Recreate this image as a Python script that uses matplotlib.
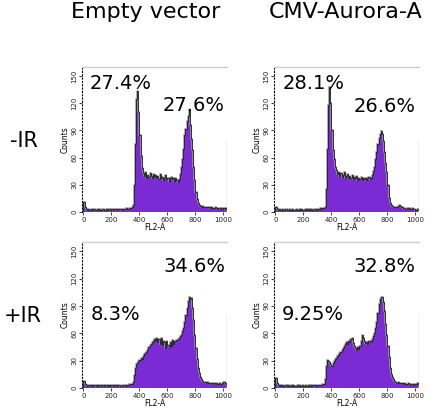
"""Cell-cycle DNA content histograms: empty vector vs CMV-Aurora-A, -IR / +IR."""
import matplotlib
matplotlib.use("Agg")
import matplotlib.pyplot as plt
import numpy as np

plt.rcParams["font.family"] = ["DejaVu Sans"]

# FL2-A channel bins (width 8, 0..1024)
bin_width = 8
n_bins = 128

# counts per bin
ev_minus = [
    11, 5, 3, 2, 3, 2, 2, 3, 2, 3, 2, 2, 3, 2, 3, 2,
    2, 3, 2, 2, 3, 2, 3, 3, 2, 3, 2, 3, 3, 2, 3, 3,
    3, 3, 2, 3, 3, 3, 4, 3, 3, 4, 4, 5, 8, 30, 75, 125,
    134, 110, 85, 62, 48, 43, 40, 44, 38, 41, 39, 43, 40, 37, 42, 39,
    41, 38, 40, 36, 42, 37, 39, 35, 38, 41, 36, 38, 34, 37, 39, 36,
    38, 34, 37, 35, 33, 36, 42, 50, 58, 70, 85, 92, 100, 106, 112, 96,
    80, 68, 50, 35, 22, 14, 10, 8, 7, 6, 7, 5, 6, 5, 6, 5,
    5, 4, 5, 4, 4, 5, 4, 3, 4, 4, 3, 4, 3, 4, 3, 4,
]
cmv_minus = [
    6, 3, 2, 3, 2, 2, 3, 2, 2, 3, 2, 2, 3, 2, 2, 3,
    2, 2, 3, 2, 2, 3, 2, 3, 2, 2, 3, 2, 3, 2, 3, 2,
    3, 2, 3, 3, 2, 3, 3, 3, 4, 3, 4, 4, 6, 25, 70, 118,
    138, 120, 90, 68, 58, 50, 46, 42, 44, 40, 43, 39, 41, 44, 38, 40,
    42, 38, 40, 37, 41, 36, 39, 37, 40, 35, 38, 36, 39, 35, 37, 36,
    38, 35, 37, 39, 36, 38, 41, 45, 50, 58, 66, 75, 82, 86, 89, 86,
    78, 66, 54, 44, 30, 16, 10, 8, 7, 6, 6, 5, 6, 7, 8, 7,
    6, 5, 4, 4, 3, 4, 3, 4, 3, 3, 4, 3, 3, 2, 3, 3,
]
ev_plus = [
    8, 4, 3, 2, 3, 3, 2, 3, 2, 3, 3, 2, 3, 2, 3, 3,
    2, 3, 2, 3, 3, 2, 3, 2, 3, 3, 2, 3, 3, 2, 3, 3,
    3, 2, 3, 3, 3, 2, 3, 3, 3, 4, 4, 4, 7, 14, 22, 26,
    27, 30, 31, 33, 32, 35, 37, 38, 40, 42, 45, 47, 48, 50, 51, 54,
    52, 55, 50, 54, 48, 55, 47, 52, 50, 44, 52, 47, 45, 50, 46, 53,
    48, 52, 51, 53, 54, 55, 57, 58, 62, 66, 72, 80, 88, 95, 100, 98,
    99, 88, 74, 58, 44, 32, 22, 16, 12, 10, 8, 7, 7, 6, 7, 6,
    6, 5, 5, 4, 5, 4, 5, 4, 4, 5, 4, 4, 5, 7, 6, 4,
]
cmv_plus = [
    11, 5, 3, 2, 3, 2, 3, 2, 2, 3, 2, 3, 2, 2, 3, 2,
    3, 2, 2, 3, 2, 3, 2, 2, 3, 2, 3, 2, 2, 3, 2, 3,
    2, 3, 3, 2, 3, 3, 3, 3, 3, 3, 4, 4, 10, 24, 31, 30,
    28, 26, 24, 27, 30, 32, 33, 35, 36, 38, 40, 42, 44, 46, 48, 50,
    48, 52, 50, 54, 55, 49, 46, 44, 42, 45, 43, 46, 52, 58, 55, 51,
    49, 50, 48, 51, 50, 52, 54, 57, 60, 66, 72, 82, 92, 97, 100, 100,
    94, 84, 70, 58, 46, 34, 22, 15, 12, 10, 8, 7, 6, 7, 6, 6,
    5, 5, 4, 5, 4, 4, 5, 4, 3, 4, 4, 3, 4, 4, 5, 4,
]
# off-scale pile-up in the last channel
last_channel = [80, 80, 81, 82]

# gate percentages
pct_left = ["27.4%", "28.1%", "8.3%", "9.25%"]
pct_right = ["27.6%", "26.6%", "34.6%", "32.8%"]
pct_left_pos = [(45, 136), (48, 136), (55, 74), (45, 74)]
pct_right_pos = [(566, 111), (560, 110), (571, 127), (560, 127)]

col_titles = ["Empty vector", "CMV-Aurora-A"]
row_titles = ["-IR", "+IR"]

W, H = 436, 411
fig = plt.figure(figsize=(W / 100, H / 100), dpi=100)

# panel boxes in pixels: left, top, right, bottom
boxes = [
    (82, 67, 227, 212), (274, 67, 419, 212),
    (82, 242, 227, 388), (274, 242, 419, 388),
]
series = [ev_minus, cmv_minus, ev_plus, cmv_plus]
edges = np.arange(n_bins + 1) * bin_width
purple = "#7a2bd4"

for i, (l, t, r, b) in enumerate(boxes):
    ax = fig.add_axes([l / W, 1 - b / H, (r - l) / W, (b - t) / H])
    counts = np.asarray(series[i])
    ax.stairs(counts, edges, fill=True, color=purple, lw=0)
    ax.stairs(counts, edges, color="#9a9a9a", lw=1.1)
    ax.stairs(counts, edges, color="black", lw=0.5)
    ax.vlines(edges[-1] - 2, 0, last_channel[i], color="#333333", lw=0.8)

    ax.set_xlim(-10, 1025)
    ax.set_ylim(0, 160)
    ax.set_xticks([0, 200, 400, 600, 800, 1000])
    ax.set_yticks([0, 30, 60, 90, 120, 150])
    ax.tick_params(axis="both", labelsize=5, length=2, width=0.6, pad=1.5,
                   colors="#222222")
    for lab in ax.get_yticklabels():
        lab.set_rotation(90)
        lab.set_va("center")
    ax.spines["left"].set_linestyle((0, (1, 2)))
    ax.spines["left"].set_linewidth(0.8)
    ax.spines["top"].set_color("#cccccc")
    ax.spines["top"].set_linewidth(1.0)
    ax.spines["right"].set_visible(False)
    ax.spines["bottom"].set_visible(False)
    ax.set_xlabel("FL2-A", fontsize=5.5, labelpad=0)
    ax.set_ylabel("Counts", fontsize=5.5, labelpad=1)

    ax.text(*pct_left_pos[i], pct_left[i], fontsize=14, va="baseline")
    ax.text(*pct_right_pos[i], pct_right[i], fontsize=14, va="baseline")

fig.text(146 / W, 1 - 18.5 / H, col_titles[0], fontsize=16, ha="center", va="baseline")
fig.text(346 / W, 1 - 18.5 / H, col_titles[1], fontsize=16, ha="center", va="baseline")
fig.text(23.5 / W, 1 - 141 / H, row_titles[0], fontsize=15, ha="center", va="center")
fig.text(23 / W, 1 - 316 / H, row_titles[1], fontsize=15, ha="center", va="center")

fig.savefig("out.png", dpi=100)
